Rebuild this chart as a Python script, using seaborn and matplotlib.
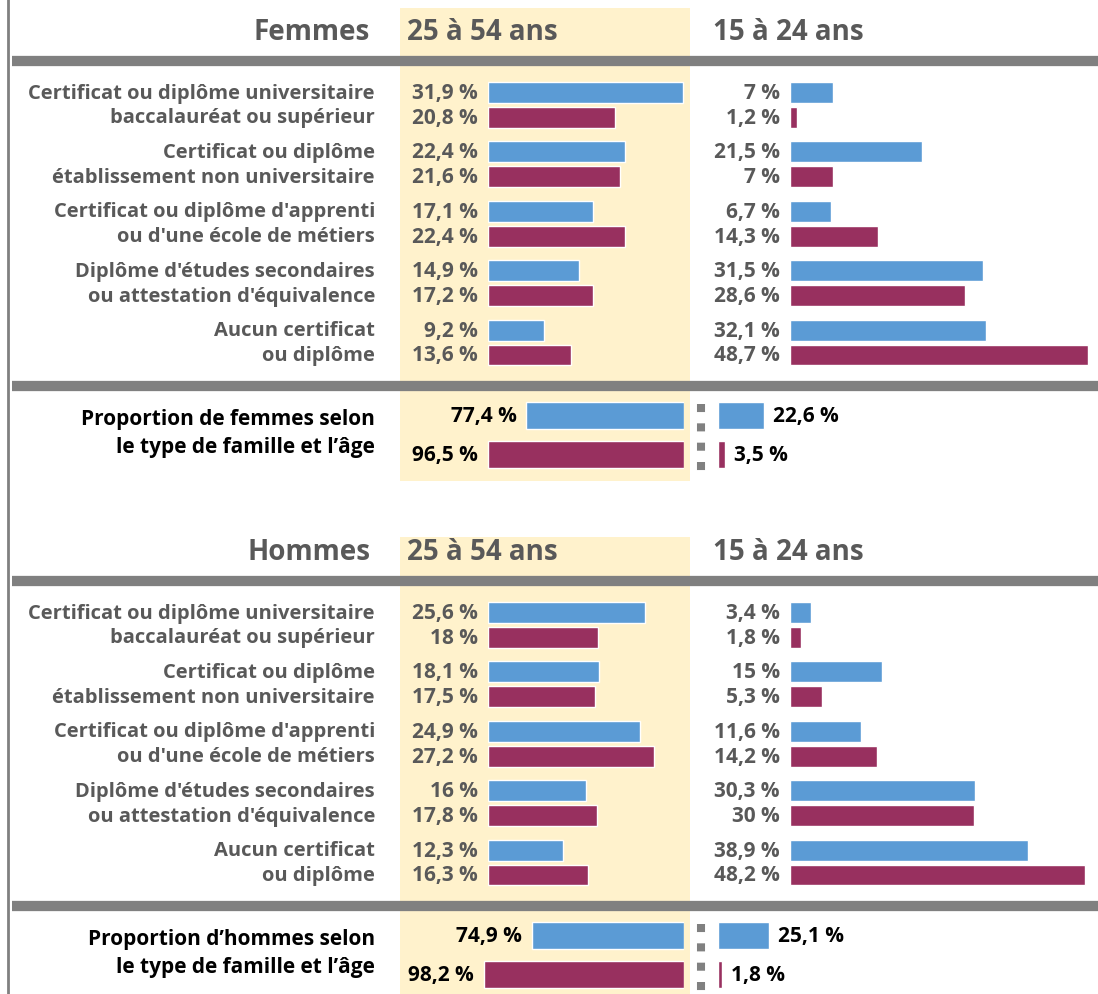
import pandas as pd
import seaborn as sns
import matplotlib.pyplot as plt

W, H = 1098, 995

# ---- data ----
categories = ["Certificat ou diplôme universitaire\nbaccalauréat ou supérieur",
              "Certificat ou diplôme\nétablissement non universitaire",
              "Certificat ou diplôme d'apprenti\nou d'une école de métiers",
              "Diplôme d'études secondaires\nou attestation d'équivalence",
              "Aucun certificat\nou diplôme"]
types = ["type 1", "type 2"]
age_groups = ["25 à 54 ans", "15 à 24 ans"]

femmes_25_54_t1 = [31.9, 22.4, 17.1, 14.9, 9.2]
femmes_25_54_t2 = [20.8, 21.6, 22.4, 17.2, 13.6]
femmes_15_24_t1 = [7, 21.5, 6.7, 31.5, 32.1]
femmes_15_24_t2 = [1.2, 7, 14.3, 28.6, 48.7]
femmes_prop_25_54 = [77.4, 96.5]
femmes_prop_15_24 = [22.6, 3.5]

hommes_25_54_t1 = [25.6, 18.1, 24.9, 16, 12.3]
hommes_25_54_t2 = [18, 17.5, 27.2, 17.8, 16.3]
hommes_15_24_t1 = [3.4, 15, 11.6, 30.3, 38.9]
hommes_15_24_t2 = [1.8, 5.3, 14.2, 30, 48.2]
hommes_prop_25_54 = [74.9, 98.2]
hommes_prop_15_24 = [25.1, 1.8]

blue = "#5B9BD5"
maroon = "#98305F"
band = "#FFF2CC"
grey = "#808080"
text_grey = "#595959"

sns.set_style("white")
plt.rcParams['font.family'] = ['Open Sans', 'DejaVu Sans']

fig = plt.figure(figsize=(W / 100, H / 100), dpi=100)
bg = fig.add_axes([0, 0, 1, 1])
bg.set_xlim(0, W)
bg.set_ylim(H, 0)
bg.axis('off')

ROW_SCALE = 6.12   # px per % (detail rows)
PROP_SCALE = 2.035  # px per % (proportion rows)
FS_CAT = 14.5
FS_VAL = 15
FS_HEAD = 20


def px_axes(x0, x1, y0, y1):
    ax = fig.add_axes([x0 / W, 1 - y1 / H, (x1 - x0) / W, (y1 - y0) / H])
    ax.set_facecolor('none')
    return ax


def pct(v):
    return f"{round(v, 1):g}".replace('.', ',') + " %"


def row_panel(x0, y0, y1, width_px, v1, v2, with_cats):
    ax = px_axes(x0, x0 + width_px, y0, y1)
    df = pd.DataFrame({'categorie': categories * 2,
                       'type': [types[0]] * len(v1) + [types[1]] * len(v2),
                       'valeur': v1 + v2})
    sns.barplot(data=df, x='valeur', y='categorie', hue='type', order=categories,
                palette=[blue, maroon], orient='h', width=0.84, gap=0.16,
                saturation=1, errorbar=None, legend=False, ax=ax)
    ax.set_xlim(0, width_px / ROW_SCALE)
    ax.axis('off')
    for k, cont in enumerate(ax.containers):
        for bar in cont:
            yc = bar.get_y() + bar.get_height() / 2
            ax.annotate(pct(bar.get_width()), (0, yc), xytext=(-10, 0),
                        textcoords='offset pixels', ha='right', va='center',
                        color=text_grey, fontsize=FS_VAL, weight='bold')
            if with_cats:
                line = categories[int(round(yc))].split('\n')[k]
                ax.annotate(line, (0, yc), xytext=(-113, 0),
                            textcoords='offset pixels', ha='right', va='center',
                            color=text_grey, fontsize=FS_CAT, weight='bold')


def prop_panel(x0, x1, y0, y1, vals, left):
    ax = px_axes(x0, x1, y0, y1)
    sns.barplot(x=vals, y=types, hue=types, palette=[blue, maroon], orient='h',
                width=0.7, saturation=1, errorbar=None, legend=False, ax=ax)
    if left:
        ax.set_xlim(100, 0)
    else:
        ax.set_xlim(0, 100)
    ax.axis('off')
    for cont in ax.containers:
        for bar in cont:
            yc = bar.get_y() + bar.get_height() / 2
            ax.annotate(pct(bar.get_width()), (bar.get_width(), yc),
                        xytext=(-10 if left else 9, 0), textcoords='offset pixels',
                        ha='right' if left else 'left', va='center',
                        color='black', fontsize=FS_VAL, weight='bold')


# left border
bg.plot([8, 8], [0, H], color=grey, lw=2)

blocks = [
    ("Femmes", 0, 9, 482, femmes_25_54_t1, femmes_25_54_t2, femmes_15_24_t1,
     femmes_15_24_t2, femmes_prop_25_54, femmes_prop_15_24,
     "Proportion de femmes selon\nle type de famille et l’âge"),
    ("Hommes", 520, 538, 995, hommes_25_54_t1, hommes_25_54_t2, hommes_15_24_t1,
     hommes_15_24_t2, hommes_prop_25_54, hommes_prop_15_24,
     "Proportion d’hommes selon\nle type de famille et l’âge"),
]

for (title, off, band_top, band_bot, a1, a2, b1, b2, pa, pb, ptxt) in blocks:
    # yellow band behind the 25-54 column
    bg.fill_between([400, 690], band_top, band_bot, color=band, lw=0, zorder=0)
    # headers
    bg.text(370, 33 + off, title, ha='right', va='center', color=text_grey,
            fontsize=FS_HEAD, weight='bold')
    bg.text(407, 33 + off, age_groups[0], ha='left', va='center', color=text_grey,
            fontsize=FS_HEAD, weight='bold')
    bg.text(713, 33 + off, age_groups[1], ha='left', va='center', color=text_grey,
            fontsize=FS_HEAD, weight='bold')
    # grey separators
    for yy in (62 + off, 387 + off):
        bg.plot([12, W], [yy, yy], color=grey, lw=7.4, solid_capstyle='butt', zorder=2)
    # detail rows
    row_panel(488, 76.3 + off, 373.2 + off, 200, a1, a2, True)
    row_panel(790, 76.3 + off, 373.2 + off, 305, b1, b2, False)
    # proportion rows
    prop_panel(684 - 100 * PROP_SCALE, 684, 397 + off, 475 + off, pa, True)
    prop_panel(718, 718 + 100 * PROP_SCALE, 397 + off, 475 + off, pb, False)
    bg.plot([701, 701], [405 + off, 472 + off], color=grey, lw=5.8,
            linestyle=(0, (1, 1.4)), dash_capstyle='butt')
    for i, line in enumerate(ptxt.split('\n')):
        bg.text(375, 420 + off + 28 * i, line, ha='right', va='center',
                color='black', fontsize=FS_VAL, weight='bold')

fig.savefig("out.png", dpi=100)
